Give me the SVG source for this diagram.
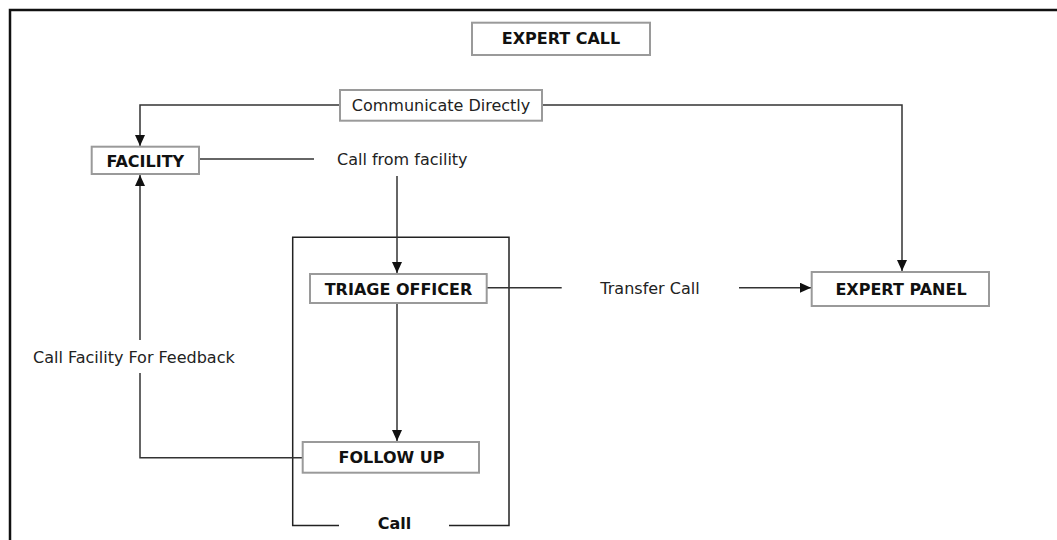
<svg xmlns="http://www.w3.org/2000/svg" width="1057" height="540" viewBox="0 0 1057 540">
<style>
.box{fill:#fff;stroke:#9a9a9a;stroke-width:2}
.b{font-family:"DejaVu Sans",Verdana,sans-serif;font-weight:bold;font-size:16px;fill:#111;text-anchor:middle}
.t{font-family:"DejaVu Sans",Verdana,sans-serif;font-size:16px;fill:#222}
.c{fill:none;stroke:#333;stroke-width:1.5}
.k{fill:none;stroke:#222;stroke-width:1.5}
</style>
<defs>
<marker id="ah" markerUnits="userSpaceOnUse" markerWidth="12" markerHeight="10" refX="11" refY="5" orient="auto">
<path d="M0,0 L11,5 L0,10 Z" fill="#111"/>
</marker>
</defs>
<rect width="1057" height="540" fill="#fff"/>
<path d="M10,540 V10 H1057" fill="none" stroke="#111" stroke-width="2.5"/>
<g id="container">
<path class="k" d="M339,525.5 H292.7 V237.3 H509 V525.5 H449"/>
<text class="b" x="394.5" y="529">Call</text>
</g>
<g id="connectors">
<path class="c" d="M340,105 H140 V146" marker-end="url(#ah)"/>
<path class="c" d="M542,105 H902 V271" marker-end="url(#ah)"/>
<path class="c" d="M199,159 H314"/>
<path class="c" d="M397,176 V273" marker-end="url(#ah)"/>
<path class="c" d="M397,303 V441" marker-end="url(#ah)"/>
<path class="c" d="M487,287.7 H561.7"/>
<path class="c" d="M739,287.7 H811" marker-end="url(#ah)"/>
<path class="c" d="M302.7,457.7 H140 V373"/>
<path class="c" d="M140,340 V175" marker-end="url(#ah)"/>
</g>
<g id="expert-call">
<rect class="box" x="472" y="22.7" width="178" height="32.3"/>
<text class="b" x="561" y="44">EXPERT CALL</text>
</g>
<g id="communicate-directly">
<rect class="box" x="340" y="90" width="202" height="30.7"/>
<text class="t" x="441" y="111" text-anchor="middle">Communicate Directly</text>
</g>
<g id="facility">
<rect class="box" x="91.7" y="146.7" width="107.3" height="27.3"/>
<text class="b" x="145.3" y="166.5">FACILITY</text>
</g>
<g id="call-from-facility">
<text class="t" x="337" y="165">Call from facility</text>
</g>
<g id="triage-officer">
<rect class="box" x="310" y="274" width="176.7" height="29"/>
<text class="b" x="398.5" y="294.5">TRIAGE OFFICER</text>
</g>
<g id="transfer-call">
<text class="t" x="650" y="294" text-anchor="middle">Transfer Call</text>
</g>
<g id="expert-panel">
<rect class="box" x="811.7" y="272" width="177.3" height="34"/>
<text class="b" x="901" y="295">EXPERT PANEL</text>
</g>
<g id="follow-up">
<rect class="box" x="302.7" y="442" width="176.3" height="30.7"/>
<text class="b" x="391.5" y="462.7">FOLLOW UP</text>
</g>
<g id="feedback-label">
<text class="t" x="33" y="363">Call Facility For Feedback</text>
</g>
</svg>
